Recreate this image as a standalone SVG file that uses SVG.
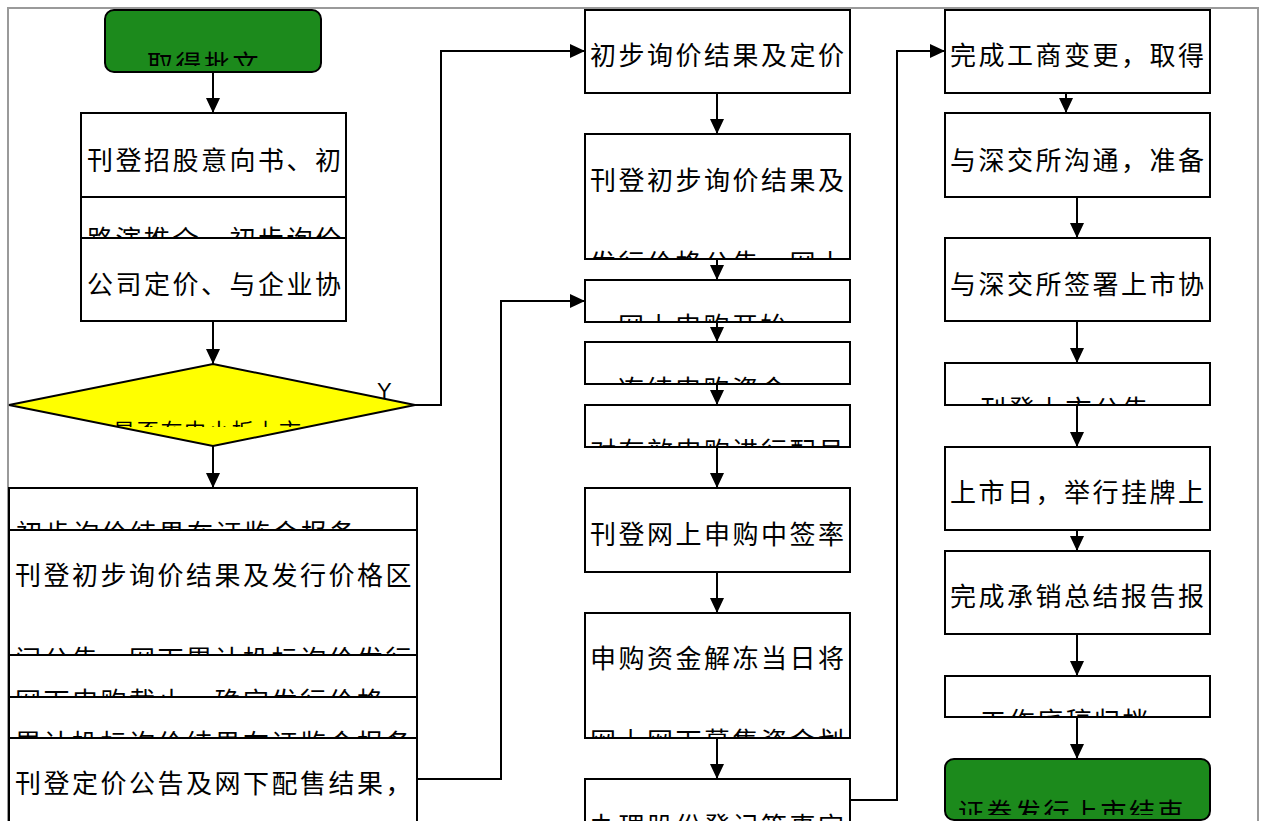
<svg xmlns="http://www.w3.org/2000/svg" width="1264" height="821" viewBox="0 0 1264 821">
<style>
.box{fill:#fff;stroke:#000;stroke-width:2}
.term{fill:#1c8a1c;stroke:#000;stroke-width:2}
.dia{fill:#ffff00;stroke:#000;stroke-width:2}
.t{font-family:"Noto Sans CJK SC","Liberation Sans",sans-serif;font-size:26px;letter-spacing:2.5px;fill:#000}
.ts{font-family:"Noto Sans CJK SC","Liberation Sans",sans-serif;font-size:22px;letter-spacing:1.7px;fill:#000}
.lbl{font-family:"Liberation Sans",sans-serif;font-size:22px;fill:#000}
.c{fill:none;stroke:#000;stroke-width:2}
</style>
<defs>
<marker id="ah" markerUnits="userSpaceOnUse" markerWidth="15" markerHeight="14" refX="15" refY="7" orient="auto"><path d="M0,0 L15,7 L0,14 z" fill="#000"/></marker>
<clipPath id="cS"><rect x="105" y="10" width="216" height="56"/></clipPath>
<clipPath id="c2"><rect x="81" y="197" width="265" height="41"/></clipPath>
<clipPath id="cD"><rect x="9" y="364" width="406" height="63"/></clipPath>
<clipPath id="cA"><rect x="9" y="488" width="408" height="42"/></clipPath>
<clipPath id="cB"><rect x="9" y="530" width="408" height="125"/></clipPath>
<clipPath id="cC"><rect x="9" y="655" width="408" height="42"/></clipPath>
<clipPath id="cDd"><rect x="9" y="697" width="408" height="41"/></clipPath>
<clipPath id="cM2"><rect x="585" y="134" width="265" height="125"/></clipPath>
<clipPath id="cM3"><rect x="585" y="280" width="265" height="42"/></clipPath>
<clipPath id="cM4"><rect x="585" y="342" width="265" height="42"/></clipPath>
<clipPath id="cM5"><rect x="585" y="405" width="265" height="42"/></clipPath>
<clipPath id="cM7"><rect x="585" y="613" width="265" height="125"/></clipPath>
<clipPath id="cM8"><rect x="585" y="779" width="265" height="42"/></clipPath>
<clipPath id="cR4"><rect x="945" y="363" width="265" height="42"/></clipPath>
<clipPath id="cR7"><rect x="945" y="676" width="265" height="41"/></clipPath>
<clipPath id="cR8"><rect x="945" y="759" width="265" height="56"/></clipPath>
</defs>
<rect x="8" y="8" width="1250" height="830" fill="none" stroke="#9a9a9a" stroke-width="2"/>

<g id="start"><rect class="term" x="105" y="10" width="216" height="62" rx="9"/><text class="t" x="147" y="74" clip-path="url(#cS)">取得批文</text></g>
<g id="n1"><rect class="box" x="81" y="113" width="265" height="84"/><text class="t" x="87" y="170">刊登招股意向书、初</text></g>
<g id="n2"><rect class="box" x="81" y="197" width="265" height="41"/><text class="t" x="87" y="249" clip-path="url(#c2)">路演推介、初步询价</text></g>
<g id="n3"><rect class="box" x="81" y="238" width="265" height="83"/><text class="t" x="87" y="294">公司定价、与企业协</text></g>
<g id="dec"><polygon class="dia" points="213,364 415,405 213,446 9,405"/><text class="ts" x="113" y="439" clip-path="url(#cD)">是否在中小板上市</text><text class="lbl" x="377" y="398">Y</text></g>
<g id="a1"><rect class="box" x="9" y="488" width="408" height="42"/><text class="t" x="16" y="543" clip-path="url(#cA)">初步询价结果在证监会报备</text></g>
<g id="a2"><rect class="box" x="9" y="530" width="408" height="125"/><text class="t" x="15" y="585">刊登初步询价结果及发行价格区</text><text class="t" x="15" y="669" clip-path="url(#cB)">间公告，网下累计投标询价发行</text></g>
<g id="a3"><rect class="box" x="9" y="655" width="408" height="42"/><text class="t" x="15" y="711" clip-path="url(#cC)">网下申购截止，确定发行价格</text></g>
<g id="a4"><rect class="box" x="9" y="697" width="408" height="41"/><text class="t" x="15" y="753" clip-path="url(#cDd)">累计投标询价结果在证监会报备</text></g>
<g id="a5"><rect class="box" x="9" y="738" width="408" height="100"/><text class="t" x="15" y="793">刊登定价公告及网下配售结果，</text></g>

<g id="m1"><rect class="box" x="585" y="10" width="265" height="83"/><text class="t" x="590" y="65">初步询价结果及定价</text></g>
<g id="m2"><rect class="box" x="585" y="134" width="265" height="125"/><text class="t" x="590" y="190">刊登初步询价结果及</text><text class="t" x="590" y="273" clip-path="url(#cM2)">发行价格公告，网上</text></g>
<g id="m3"><rect class="box" x="585" y="280" width="265" height="42"/><text class="t" x="618" y="336" clip-path="url(#cM3)">网上申购开始</text></g>
<g id="m4"><rect class="box" x="585" y="342" width="265" height="42"/><text class="t" x="618" y="399" clip-path="url(#cM4)">冻结申购资金</text></g>
<g id="m5"><rect class="box" x="585" y="405" width="265" height="42"/><text class="t" x="590" y="461" clip-path="url(#cM5)">对有效申购进行配号</text></g>
<g id="m6"><rect class="box" x="585" y="488" width="265" height="84"/><text class="t" x="590" y="544">刊登网上申购中签率</text></g>
<g id="m7"><rect class="box" x="585" y="613" width="265" height="125"/><text class="t" x="590" y="668">申购资金解冻当日将</text><text class="t" x="590" y="751" clip-path="url(#cM7)">网上网下募集资金划</text></g>
<g id="m8"><rect class="box" x="585" y="779" width="265" height="60"/><text class="t" x="590" y="836" clip-path="url(#cM8)">办理股份登记等事宜</text></g>

<g id="r1"><rect class="box" x="945" y="10" width="265" height="83"/><text class="t" x="950" y="65">完成工商变更，取得</text></g>
<g id="r2"><rect class="box" x="945" y="113" width="265" height="84"/><text class="t" x="950" y="170">与深交所沟通，准备</text></g>
<g id="r3"><rect class="box" x="945" y="238" width="265" height="83"/><text class="t" x="950" y="294">与深交所签署上市协</text></g>
<g id="r4"><rect class="box" x="945" y="363" width="265" height="42"/><text class="t" x="980" y="419" clip-path="url(#cR4)">刊登上市公告</text></g>
<g id="r5"><rect class="box" x="945" y="447" width="265" height="83"/><text class="t" x="950" y="502">上市日，举行挂牌上</text></g>
<g id="r6"><rect class="box" x="945" y="551" width="265" height="83"/><text class="t" x="950" y="606">完成承销总结报告报</text></g>
<g id="r7"><rect class="box" x="945" y="676" width="265" height="41"/><text class="t" x="980" y="731" clip-path="url(#cR7)">工作底稿归档</text></g>
<g id="end"><rect class="term" x="945" y="759" width="265" height="61" rx="9"/><text class="t" x="958" y="822" clip-path="url(#cR8)">证券发行上市结束</text></g>

<g id="connectors">
<path class="c" d="M213,72 V113" marker-end="url(#ah)"/>
<path class="c" d="M213,321 V364" marker-end="url(#ah)"/>
<path class="c" d="M415,405 H441 V51 H585" marker-end="url(#ah)"/>
<path class="c" d="M213,446 V488" marker-end="url(#ah)"/>
<path class="c" d="M417,779 H501 V301 H585" marker-end="url(#ah)"/>
<path class="c" d="M717,93 V134" marker-end="url(#ah)"/>
<path class="c" d="M717,259 V280" marker-end="url(#ah)"/>
<path class="c" d="M717,322 V342" marker-end="url(#ah)"/>
<path class="c" d="M717,384 V405" marker-end="url(#ah)"/>
<path class="c" d="M717,447 V488" marker-end="url(#ah)"/>
<path class="c" d="M717,572 V613" marker-end="url(#ah)"/>
<path class="c" d="M717,738 V779" marker-end="url(#ah)"/>
<path class="c" d="M850,800 H897 V51 H945" marker-end="url(#ah)"/>
<path class="c" d="M1066,93 V113" marker-end="url(#ah)"/>
<path class="c" d="M1077,197 V238" marker-end="url(#ah)"/>
<path class="c" d="M1077,321 V363" marker-end="url(#ah)"/>
<path class="c" d="M1077,405 V447" marker-end="url(#ah)"/>
<path class="c" d="M1077,530 V551" marker-end="url(#ah)"/>
<path class="c" d="M1077,634 V676" marker-end="url(#ah)"/>
<path class="c" d="M1077,717 V759" marker-end="url(#ah)"/>
</g>
</svg>
